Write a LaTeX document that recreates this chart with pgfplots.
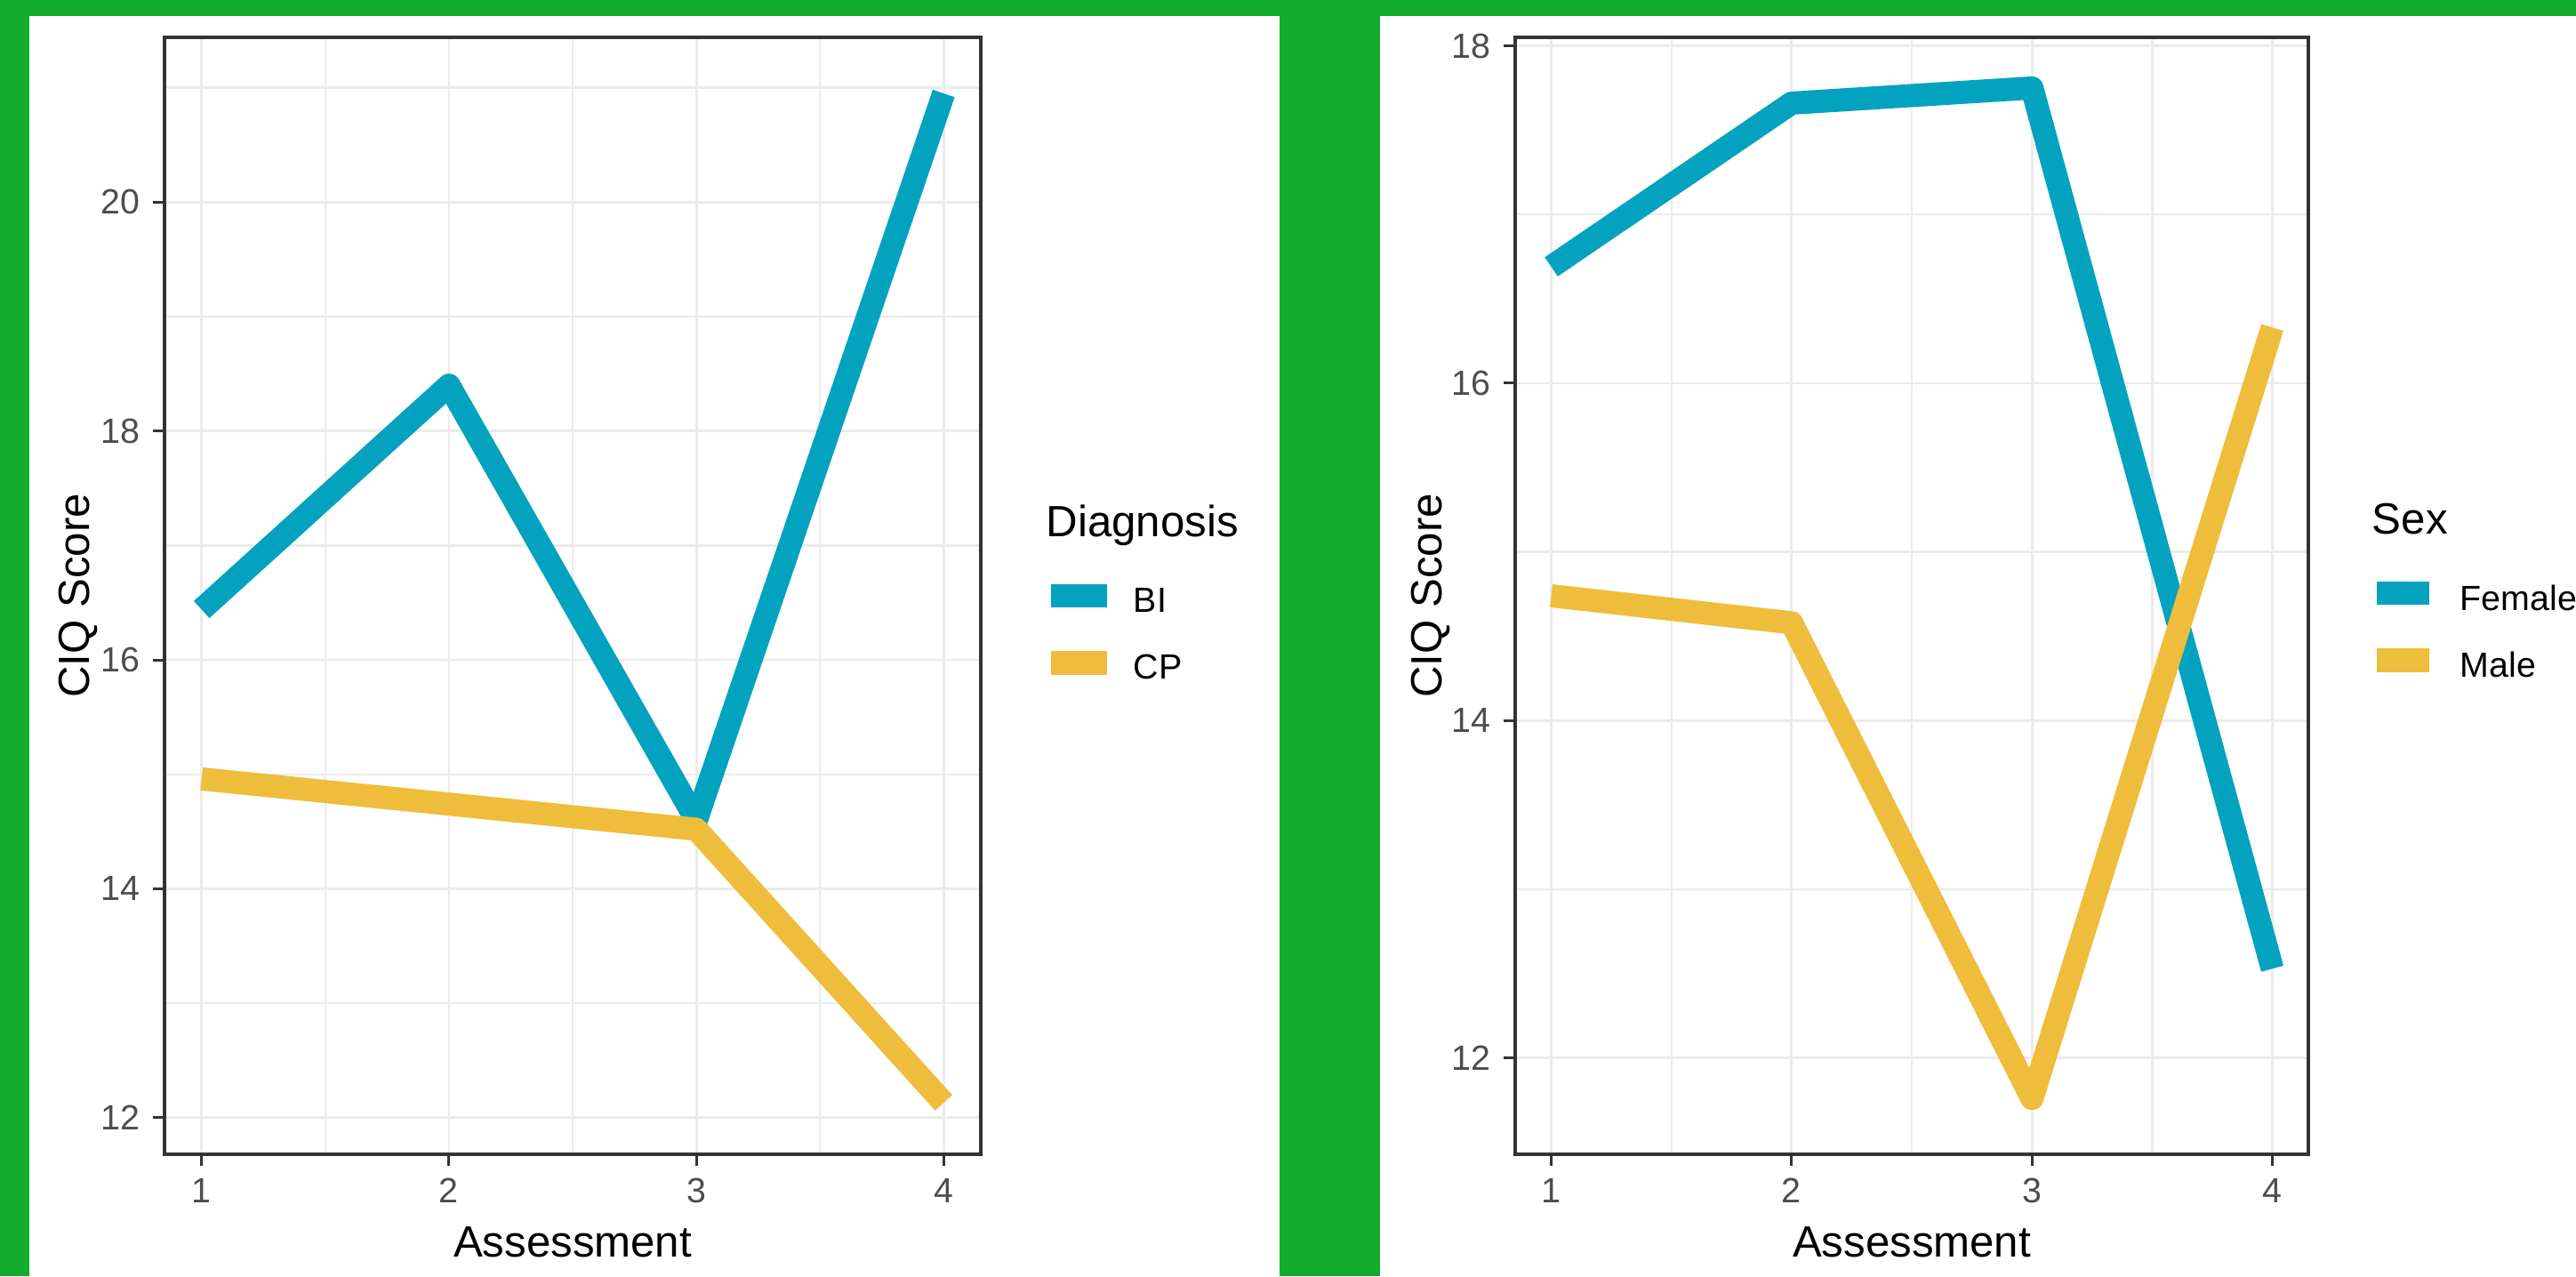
\documentclass[border=0pt]{standalone}
\usepackage{pgfplots}
\pgfplotsset{compat=1.18}
\usepackage{fontspec}
\setmainfont{Liberation Sans}
\definecolor{bggreen}{HTML}{13AC2C}
\definecolor{cteal}{HTML}{03A3BF}
\definecolor{cyell}{HTML}{EFBD3C}
\definecolor{framec}{HTML}{333333}
\definecolor{gridc}{HTML}{EBEBEB}
\definecolor{ticklab}{HTML}{4D4D4D}
\pgfplotsset{ciq/.style={
  scale only axis, height=314pt,
  xmin=0.85, xmax=4.15,
  xtick={1,2,3,4}, minor xtick={1.5,2.5,3.5},
  grid=both,
  major grid style={draw=gridc, line width=0.7pt},
  minor grid style={draw=gridc, line width=0.6pt},
  minor tick length=0pt,
  major tick length=3.3pt,
  tick align=outside,
  tick pos=left,
  tick style={draw=framec, line width=0.75pt},
  axis line style={draw=framec, line width=0.8pt},
  /pgf/number format/assume math mode=true,
  ticklabel style={font=\fontsize{9.84}{11}\selectfont, text=ticklab},
  label style={font=\fontsize{12.3}{14}\selectfont, text=black},
  xlabel={Assessment}, ylabel={CIQ Score},
  xlabel style={at={(axis description cs:0.5,0)}, anchor=base, yshift=-28.75pt},
  ylabel style={at={(axis description cs:-0.092,0.5)}, anchor=base},
  every axis plot/.append style={line width=6.5pt, line join=round, line cap=butt, mark=none},
}}
\begin{document}
\begin{tikzpicture}
\useasboundingbox (0pt,0pt) rectangle (724.25pt,358.75pt);
\clip (0pt,0pt) rectangle (724.25pt,358.75pt);
\fill[bggreen] (0pt,0pt) rectangle (724.25pt,358.75pt);
\fill[white] (8.25pt,0pt) rectangle (359.75pt,354.25pt);
\fill[white] (388pt,0pt) rectangle (724.25pt,354.25pt);

\begin{axis}[ciq, at={(46.25pt,34.25pt)}, anchor=south west, width=229.5pt,
  ymin=11.68, ymax=21.44, ytick={12,14,16,18,20}, minor ytick={13,15,17,19,21}]
\addplot[cteal] coordinates {(1,16.44) (2,18.40) (3,14.60) (4,20.95)};
\addplot[cyell] coordinates {(1,14.96) (2,14.74) (3,14.52) (4,12.13)};
\end{axis}

\begin{axis}[ciq, at={(426pt,34.25pt)}, anchor=south west, width=223pt,
  ymin=11.43, ymax=18.05, ytick={12,14,16,18}, minor ytick={13,15,17}]
\addplot[cteal] coordinates {(1,16.69) (2,17.66) (3,17.75) (4,12.53)};
\addplot[cyell] coordinates {(1,14.74) (2,14.58) (3,11.76) (4,16.33)};
\end{axis}

% legends (1 px = 0.25pt)
\begin{scope}[x=0.25pt,y=0.25pt]
\node[anchor=base west, inner sep=0, font=\fontsize{12.3}{14}\selectfont] at (1176,831) {Diagnosis};
\fill[cteal] (1182,752) rectangle (1245,778);
\fill[cyell] (1182,676) rectangle (1245,703);
\node[anchor=base west, inner sep=0, font=\fontsize{9.84}{11}\selectfont] at (1274,746) {BI};
\node[anchor=base west, inner sep=0, font=\fontsize{9.84}{11}\selectfont] at (1274,671) {CP};

\node[anchor=base west, inner sep=0, font=\fontsize{12.3}{14}\selectfont] at (2667,834) {Sex};
\fill[cteal] (2673,755) rectangle (2732,781);
\fill[cyell] (2673,679) rectangle (2732,706);
\node[anchor=base west, inner sep=0, font=\fontsize{9.84}{11}\selectfont] at (2766,748) {Female};
\node[anchor=base west, inner sep=0, font=\fontsize{9.84}{11}\selectfont] at (2766,673) {Male};
\end{scope}
\end{tikzpicture}
\end{document}
